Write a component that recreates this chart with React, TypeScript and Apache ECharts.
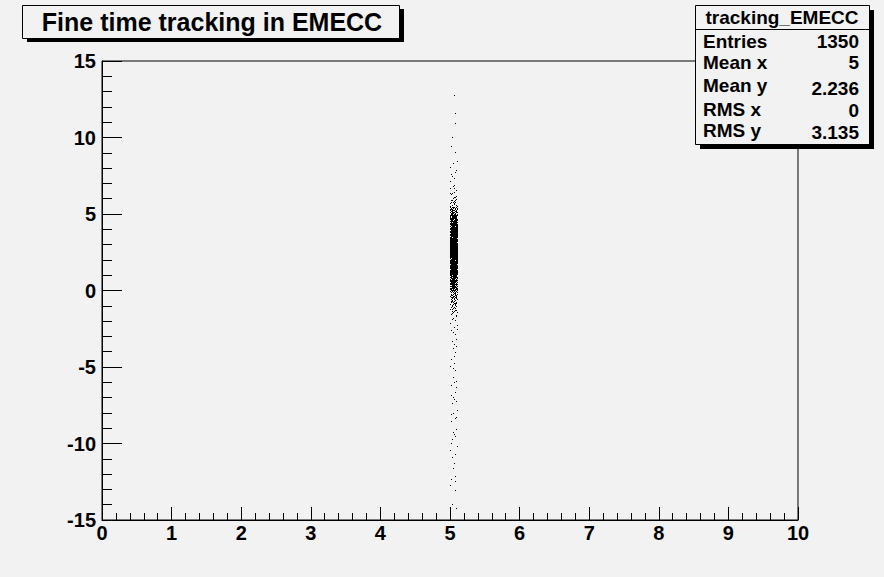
import React, { useEffect, useRef } from "react";
import * as echarts from "echarts";

// Histogram tracking_EMECC drawn as scatter (ROOT "SCAT" style)
const xBinLow = 5.0;
const xBinWidth = 0.1;
const yBinWidth = 0.5;
const yBinLows = [
  -14.5, -14, -13.5, -13, -12.5, -12, -11.5, -11, -10.5, -10, -9.5, -9, -8.5, -8, -7.5, -7, -6.5, -6, -5.5, -5,
  -4.5, -4, -3.5, -3, -2.5, -2, -1.5, -1, -0.5, 0, 0.5, 1, 1.5, 2, 2.5, 3, 3.5, 4, 4.5, 5, 5.5, 6, 6.5, 7, 7.5,
  8, 8.5, 9, 9.5, 10, 10.5, 11, 11.5, 12, 12.5,
];
const yBinCounts = [
  1, 1, 1, 1, 3, 1, 1, 2, 2, 3, 3, 1, 3, 2, 3, 3, 3, 2, 2, 2, 3, 2, 3, 4, 3, 6, 14, 22, 35, 60, 90, 120, 135, 145,
  145, 135, 125, 105, 75, 40, 15, 8, 5, 3, 3, 3, 0, 2, 0, 1, 1, 0, 1, 0, 1,
];

const titleText = "Fine time tracking in EMECC";
const statsTitle = "tracking_EMECC";
const statsLabels = ["Entries", "Mean x", "Mean y", "RMS x", "RMS y"];
const statsValues = ["1350", "5", "2.236", "0", "3.135"];

const BG = "#f2f2f2";
const FONT = "'Liberation Sans', Arial, Helvetica, sans-serif";

function halton(i: number, b: number) {
  let f = 1;
  let r = 0;
  while (i > 0) {
    f /= b;
    r += f * (i % b);
    i = Math.floor(i / b);
  }
  return r;
}

export default function App() {
  const ref = useRef<HTMLDivElement>(null);
  useEffect(() => {
    if (!ref.current) return;
    const chart = echarts.init(ref.current, null, { renderer: "svg" });
    const data = yBinLows.map((y, i) => [xBinLow, y, yBinCounts[i]]);

    const statsY = [41, 62, 85, 109, 130];
    const statsValY = [41, 62, 88, 110, 132];

    const graphics: any[] = [
      // title box
      { type: "rect", shape: { x: 27, y: 9, width: 377, height: 33 }, style: { fill: "#000" }, z: 100 },
      { type: "rect", shape: { x: 22.5, y: 5.5, width: 377, height: 33 }, style: { fill: BG, stroke: "#000", lineWidth: 1 }, z: 101 },
      {
        type: "text", x: 212, y: 22, z: 102,
        style: { text: titleText, font: `bold 25px ${FONT}`, fill: "#000", align: "center", verticalAlign: "middle" },
      },
      // stats box
      { type: "rect", shape: { x: 700, y: 10, width: 174, height: 139 }, style: { fill: "#000" }, z: 100 },
      { type: "rect", shape: { x: 695.5, y: 5.5, width: 174, height: 139 }, style: { fill: BG, stroke: "#000", lineWidth: 1 }, z: 101 },
      { type: "line", shape: { x1: 695.5, y1: 29.5, x2: 869.5, y2: 29.5 }, style: { stroke: "#000", lineWidth: 1 }, z: 102 },
      {
        type: "text", x: 782, y: 17, z: 102,
        style: { text: statsTitle, font: `bold 19px ${FONT}`, fill: "#000", align: "center", verticalAlign: "middle" },
      },
    ];
    statsLabels.forEach((lab, i) => {
      graphics.push({
        type: "text", x: 703, y: statsY[i], z: 102,
        style: { text: lab, font: `bold 19px ${FONT}`, fill: "#000", align: "left", verticalAlign: "middle" },
      });
      graphics.push({
        type: "text", x: 859, y: statsValY[i], z: 102,
        style: { text: statsValues[i], font: `bold 19px ${FONT}`, fill: "#000", align: "right", verticalAlign: "middle" },
      });
    });

    chart.setOption({
      animation: false,
      backgroundColor: BG,
      grid: {
        left: 102, top: 61, width: 696, height: 459,
        show: true, borderColor: "#000", borderWidth: 1, backgroundColor: "transparent",
      },
      xAxis: {
        type: "value", min: 0, max: 10, interval: 1,
        axisLine: { show: true, onZero: false, lineStyle: { color: "#000", width: 1 } },
        axisTick: { show: true, inside: true, length: 13, lineStyle: { color: "#000" } },
        minorTick: { show: true, splitNumber: 5, length: 7, lineStyle: { color: "#000" } },
        splitLine: { show: false },
        axisLabel: { color: "#000", fontFamily: FONT, fontWeight: "bold", fontSize: 20, margin: 3 },
      },
      yAxis: {
        type: "value", min: -15, max: 15, interval: 5,
        axisLine: { show: true, onZero: false, lineStyle: { color: "#000", width: 1 } },
        axisTick: { show: true, inside: true, length: 20, lineStyle: { color: "#000" } },
        minorTick: { show: true, splitNumber: 5, length: 10, lineStyle: { color: "#000" } },
        splitLine: { show: false },
        axisLabel: { color: "#000", fontFamily: FONT, fontWeight: "bold", fontSize: 20, margin: 6 },
      },
      series: [
        {
          type: "custom",
          data,
          encode: { x: 0, y: 1 },
          clip: true,
          renderItem: (params: any, api: any) => {
            const x0 = api.value(0);
            const y0 = api.value(1);
            const n = api.value(2);
            const children: any[] = [];
            const off = params.dataIndex * 131 + 7;
            for (let k = 0; k < n; k++) {
              const u = halton(k + off, 2);
              const v = halton(k + off, 3);
              const p = api.coord([x0 + u * xBinWidth, y0 + v * yBinWidth]);
              children.push({
                type: "rect",
                shape: { x: Math.round(p[0]), y: Math.round(p[1]), width: 1, height: 1 },
                style: { fill: "#000" },
              });
            }
            return { type: "group", children };
          },
        },
      ],
      graphic: graphics,
    });
    return () => chart.dispose();
  }, []);
  return (
    <div
      ref={ref}
      style={{ position: "absolute", left: 0, top: 0, width: 884, height: 577 }}
    />
  );
}
